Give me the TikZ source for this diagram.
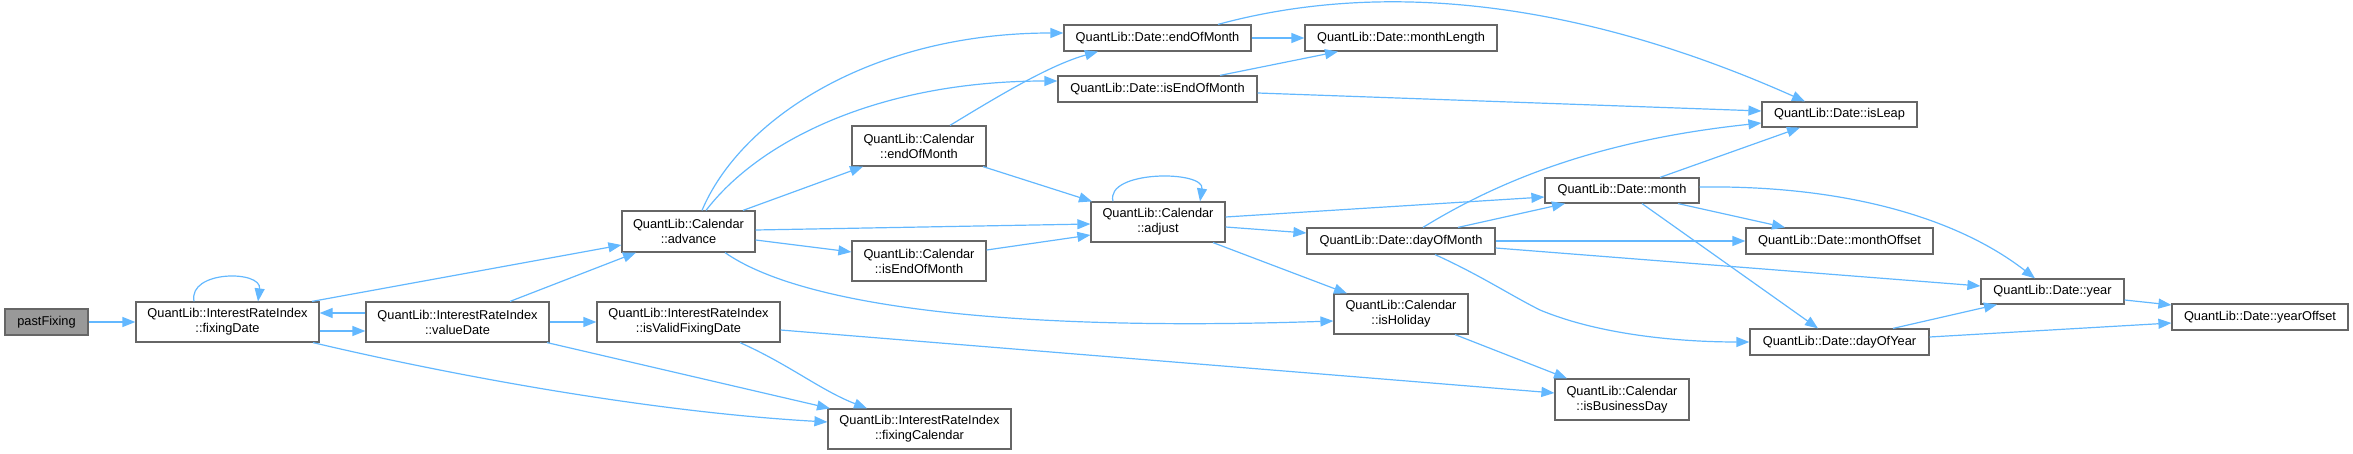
\documentclass[tikz,border=0pt]{standalone}
\usepackage{fontspec}
\setmainfont{Liberation Sans}
\usetikzlibrary{arrows.meta}
\definecolor{edgeblue}{RGB}{99,184,255}
\definecolor{boxborder}{RGB}{102,102,102}
\definecolor{rootfill}{RGB}{153,153,153}
\tikzset{
  fnbox/.style={draw=boxborder, fill=white, line width=1.2pt, inner sep=0pt, align=center,
    font=\fontsize{12.8}{15}\selectfont, text=black},
  rootbox/.style={fnbox, fill=rootfill},
  call/.style={draw=edgeblue, line width=1.2pt, -{Triangle[length=13pt,width=10pt]}, fill=none},
}
\begin{document}
\begin{tikzpicture}[x=1pt,y=-1pt]
\useasboundingbox (0,0) rectangle (2353,454);
% nodes
\node[rootbox, minimum width=83pt, minimum height=26pt] (pf) at (46.5,322) {pastFixing};
\node[fnbox, minimum width=183pt, minimum height=40pt] (fd) at (227.5,322) {QuantLib::InterestRateIndex\\::fixingDate};
\node[fnbox, minimum width=183pt, minimum height=40pt] (vd) at (457.5,322) {QuantLib::InterestRateIndex\\::valueDate};
\node[fnbox, minimum width=133pt, minimum height=41pt] (adv) at (688.5,231.5) {QuantLib::Calendar\\::advance};
\node[fnbox, minimum width=183pt, minimum height=40pt] (ivf) at (688.5,322) {QuantLib::InterestRateIndex\\::isValidFixingDate};
\node[fnbox, minimum width=183pt, minimum height=40pt] (fc) at (919.5,429) {QuantLib::InterestRateIndex\\::fixingCalendar};
\node[fnbox, minimum width=134pt, minimum height=40pt] (ceom) at (919,146) {QuantLib::Calendar\\::endOfMonth};
\node[fnbox, minimum width=134pt, minimum height=40pt] (cieom) at (919,261) {QuantLib::Calendar\\::isEndOfMonth};
\node[fnbox, minimum width=187pt, minimum height=26pt] (deom) at (1157.5,38) {QuantLib::Date::endOfMonth};
\node[fnbox, minimum width=199pt, minimum height=26pt] (dieom) at (1157.5,89) {QuantLib::Date::isEndOfMonth};
\node[fnbox, minimum width=134pt, minimum height=40pt] (adj) at (1158,222) {QuantLib::Calendar\\::adjust};
\node[fnbox, minimum width=192pt, minimum height=26pt] (mlen) at (1401,38) {QuantLib::Date::monthLength};
\node[fnbox, minimum width=188pt, minimum height=26pt] (dom) at (1401,241) {QuantLib::Date::dayOfMonth};
\node[fnbox, minimum width=134pt, minimum height=40pt] (hol) at (1401,314) {QuantLib::Calendar\\::isHoliday};
\node[fnbox, minimum width=155pt, minimum height=25pt] (isleap) at (1839.5,114.5) {QuantLib::Date::isLeap};
\node[fnbox, minimum width=154pt, minimum height=25pt] (month) at (1622,190.5) {QuantLib::Date::month};
\node[fnbox, minimum width=187pt, minimum height=26pt] (moff) at (1839.5,241) {QuantLib::Date::monthOffset};
\node[fnbox, minimum width=179pt, minimum height=26pt] (doy) at (1839.5,342) {QuantLib::Date::dayOfYear};
\node[fnbox, minimum width=134pt, minimum height=41pt] (ibd) at (1622,399.5) {QuantLib::Calendar\\::isBusinessDay};
\node[fnbox, minimum width=143pt, minimum height=25pt] (year) at (2052.5,291.5) {QuantLib::Date::year};
\node[fnbox, minimum width=176pt, minimum height=26pt] (yoff) at (2260,317) {QuantLib::Date::yearOffset};
% edges
\draw[call] (pf) -- (fd);
\draw[call] ([xshift=-33.5pt]fd.north) .. controls (188,270) and (262,270) .. ([xshift=30.5pt]fd.north);
\draw[call] ([yshift=-9pt]fd.east) -- ([yshift=-9pt]vd.west);
\draw[call] ([yshift=9pt]vd.west) -- ([yshift=9pt]fd.east);
\draw[call] ([xshift=84.5pt]fd.north) -- ([yshift=-13.5pt]adv.west);
\draw[call] ([xshift=85.5pt]fd.south) .. controls (450,375) and (650,412) .. ([yshift=7pt]fc.west);
\draw[call] ([xshift=52.5pt]vd.north) -- ([xshift=-52.5pt]adv.south);
\draw[call] (vd) -- (ivf);
\draw[call] ([xshift=89.5pt]vd.south) -- ([xshift=-89.5pt]fc.north);
\draw[call] ([xshift=13.5pt]adv.north) .. controls (740,120) and (870,33) .. ([yshift=5pt]deom.west);
\draw[call] ([xshift=17.5pt]adv.north) .. controls (760,140) and (880,81) .. ([yshift=8pt]dieom.west);
\draw[call] ([xshift=54.5pt]adv.north) -- ([xshift=-56pt]ceom.south);
\draw[call] ([yshift=1.5pt]adv.east) -- ([yshift=-2pt]adj.west);
\draw[call] ([yshift=-8.5pt]adv.east) -- ([yshift=9pt]cieom.west);
\draw[call] ([xshift=36.5pt]adv.south) .. controls (800,305) and (1000,332) .. ([yshift=-7pt]hol.west);
\draw[call] ([xshift=51.5pt]ivf.south) .. controls (790,365) and (820,390) .. ([xshift=-52.5pt]fc.north);
\draw[call] ([yshift=-8pt]ivf.east) -- ([yshift=6.5pt]ibd.west);
\draw[call] ([xshift=31pt]ceom.north) .. controls (1000,95) and (1050,65) .. ([xshift=-59.5pt]deom.south);
\draw[call] ([xshift=64pt]ceom.south) -- ([xshift=-66pt]adj.north);
\draw[call] ([yshift=11pt]cieom.east) -- ([yshift=-13pt]adj.west);
\draw[call] ([xshift=-45pt]adj.north) .. controls (1105,170) and (1205,170) .. ([xshift=42pt]adj.north);
\draw[call] ([yshift=5pt]adj.east) -- ([yshift=-6.5pt]month.west);
\draw[call] ([yshift=-5pt]adj.east) -- ([yshift=8pt]dom.west);
\draw[call] ([xshift=55pt]adj.south) -- ([xshift=-54pt]hol.north);
\draw[call] (deom) -- (mlen);
\draw[call] ([xshift=60.5pt]deom.north) .. controls (1400,-25) and (1600,10) .. ([xshift=-34.5pt]isleap.north);
\draw[call] ([xshift=62.5pt]dieom.north) -- ([xshift=-63pt]mlen.south);
\draw[call] ([yshift=-4pt]dieom.east) -- ([yshift=3.5pt]isleap.west);
\draw[call] ([xshift=22pt]dom.north) .. controls (1500,180) and (1600,140) .. ([yshift=-8.5pt]isleap.west);
\draw[call] ([xshift=57pt]dom.north) -- ([xshift=-57pt]month.south);
\draw[call] (dom) -- (moff);
\draw[call] ([yshift=-7pt]dom.east) -- ([yshift=5.5pt]year.west);
\draw[call] ([xshift=34pt]dom.south) .. controls (1480,275) and (1510,295) .. (1540,310) .. controls (1600,335) and (1680,342) .. (doy.west);
\draw[call] ([xshift=38pt]month.north) -- ([xshift=-39.5pt]isleap.south);
\draw[call] ([xshift=56pt]month.south) -- ([xshift=-54.5pt]moff.north);
\draw[call] ([xshift=20pt]month.south) -- ([xshift=-21.5pt]doy.north);
\draw[call] ([yshift=3.5pt]month.east) .. controls (1850,185) and (1960,220) .. ([xshift=-17.5pt]year.north);
\draw[call] ([xshift=54pt]hol.south) -- ([xshift=-55pt]ibd.north);
\draw[call] ([xshift=53.5pt]doy.north) -- ([xshift=-55.5pt]year.south);
\draw[call] ([yshift=5pt]doy.east) -- ([yshift=-6pt]yoff.west);
\draw[call] ([yshift=-8.5pt]year.east) -- ([yshift=12pt]yoff.west);
\end{tikzpicture}
\end{document}
